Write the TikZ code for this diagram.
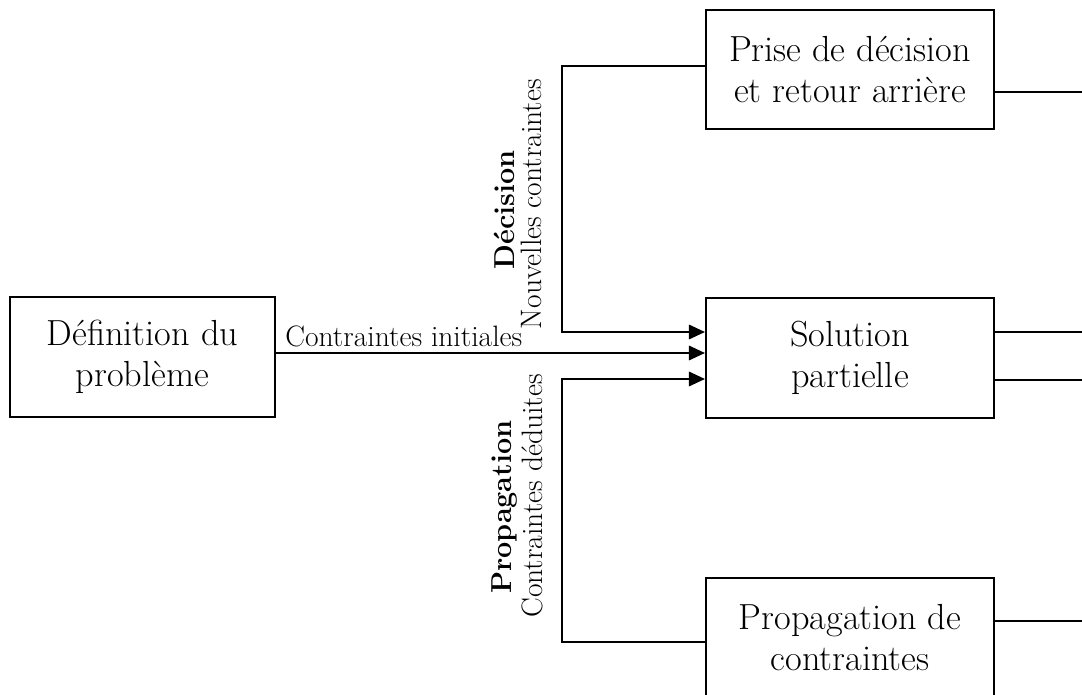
\documentclass[tikz,border=0pt]{standalone}
\usepackage{fontspec}
\usetikzlibrary{arrows.meta}

\tikzset{
  bloc/.style={draw, line width=1.4pt, align=center, inner sep=0pt,
    font=\fontsize{25.8}{29}\selectfont},
  lien/.style={line width=1.4pt},
  fleche/.style={lien, -{Triangle[length=0.4cm,width=0.36cm]}},
  etiq/.style={font=\fontsize{21}{24}\selectfont, inner sep=0pt},
  titre/.style={font=\fontsize{20.5}{24}\selectfont\bfseries, inner sep=0pt},
}

\begin{document}
\begin{tikzpicture}[x=0.025cm, y=-0.025cm]
  \useasboundingbox (0,0) rectangle (1082,695);

  % blocs
  \node[bloc, minimum width=6.625cm, minimum height=3cm] (def) at (142.5,357)
    {Définition du\\problème};
  \node[bloc, minimum width=7.2cm, minimum height=2.975cm] (dec) at (850,69.5)
    {Prise de décision\\et retour arrière};
  \node[bloc, minimum width=7.2cm, minimum height=3cm] (sol) at (850,358)
    {Solution\\partielle};
  \node[bloc, minimum width=7.2cm, minimum height=2.975cm] (prop) at (850,637.5)
    {Propagation de\\contraintes};

  % points de passage
  \coordinate (coinHaut) at (562,66);
  \coordinate (coudeHaut) at (562,332);
  \coordinate (coinBas) at (562,642);
  \coordinate (coudeBas) at (562,379);
  \coordinate (sortieDec) at (1082,92);
  \coordinate (sortieSolA) at (1082,332);
  \coordinate (sortieSolB) at (1082,380);
  \coordinate (sortieProp) at (1082,621);

  % fleches vers la solution partielle
  \draw[fleche] (dec.west |- coinHaut) -- (coinHaut) -- (coudeHaut) -- (sol.west |- coudeHaut);
  \draw[fleche] ([yshift=0.1cm]def.east) -- ([yshift=0.1cm]def.east -| sol.west);
  \draw[fleche] (prop.west |- coinBas) -- (coinBas) -- (coudeBas) -- (sol.west |- coudeBas);

  % sorties
  \draw[lien] (dec.east |- sortieDec) -- (sortieDec);
  \draw[lien] (sol.east |- sortieSolA) -- (sortieSolA);
  \draw[lien] (sol.east |- sortieSolB) -- (sortieSolB);
  \draw[lien] (prop.east |- sortieProp) -- (sortieProp);

  % etiquettes
  \node[etiq, anchor=base west] (init) at (285,346) {Contraintes initiales};
  \node[titre, rotate=90] (tdec) at (504,210) {Décision};
  \node[etiq, rotate=90] (ndec) at (531,204) {Nouvelles contraintes};
  \node[titre, rotate=90] (tprop) at (505,507) {Propagation};
  \node[etiq, rotate=90] (nprop) at (532,496) {Contraintes déduites};
\end{tikzpicture}
\end{document}
